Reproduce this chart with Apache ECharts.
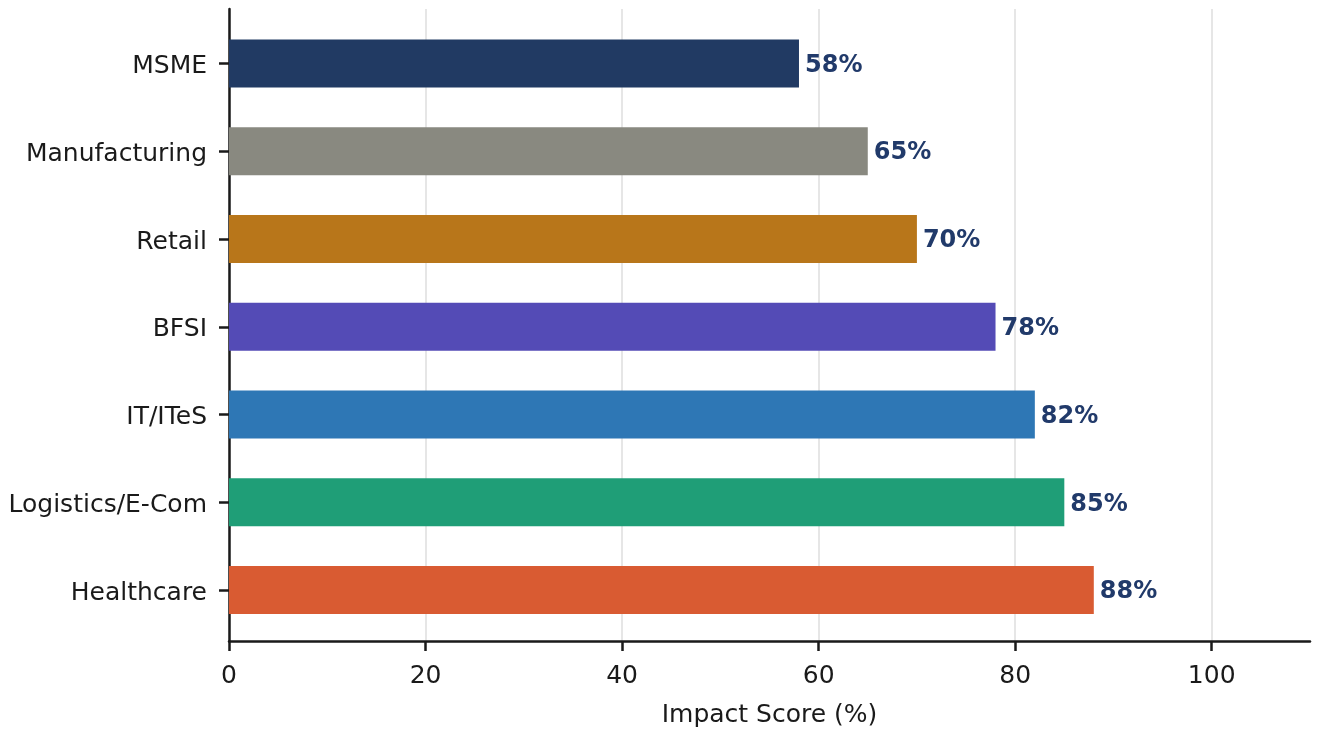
<!DOCTYPE html>
<html lang="en">
<head>
    <meta charset="UTF-8">
    <title>Impact Score by Sector</title>
    <script src="https://cdn.jsdelivr.net/npm/echarts@6/dist/echarts.min.js"></script>
    <style>
        html, body { margin: 0; padding: 0; background: #fff; }
        #myChart { width: 1318px; height: 733px; }
    </style>
</head>
<body>
<div id="myChart"></div>
<script type="text/javascript">
    // data, listed top to bottom as in the picture
    var sectors = ['MSME', 'Manufacturing', 'Retail', 'BFSI', 'IT/ITeS', 'Logistics/E-Com', 'Healthcare'];
    var scores = [58, 65, 70, 78, 82, 85, 88];
    var barColors = ['#213a63', '#898980', '#b8761a', '#544bb6', '#2e77b5', '#1f9e77', '#d95b32'];
    var xTicks = [0, 20, 40, 60, 80, 100];

    var font = 'DejaVu Sans';
    var myChart = echarts.init(document.getElementById('myChart'));

    myChart.setOption({
        backgroundColor: '#fff',
        animation: false,
        grid: [
            // bars
            {left: 229, right: 8, top: 19.6, bottom: 99},
            // frame: axis lines, x ticks, gridlines
            {left: 229, right: 8, top: 9, bottom: 90.5}
        ],
        xAxis: [
            {
                gridIndex: 0, type: 'value', min: 0, max: 110, show: false
            },
            {
                gridIndex: 1, type: 'value', min: 0, max: 110, interval: 20,
                name: 'Impact Score (%)',
                nameLocation: 'middle',
                nameGap: 62,
                nameTextStyle: {fontFamily: font, fontSize: 25, color: '#1a1a1a'},
                axisLine: {show: true, lineStyle: {color: '#1a1a1a', width: 2.5}},
                axisTick: {show: true, length: 10, lineStyle: {color: '#1a1a1a', width: 2.5},
                    customValues: xTicks},
                axisLabel: {fontFamily: font, fontSize: 25, color: '#1a1a1a', margin: 23,
                    customValues: xTicks},
                splitLine: {show: true, lineStyle: {color: '#e6e6e6', width: 2}}
            }
        ],
        yAxis: [
            {
                gridIndex: 0, type: 'category', data: sectors, inverse: true,
                axisLine: {show: false},
                axisTick: {show: true, alignWithLabel: true, length: 10,
                    lineStyle: {color: '#1a1a1a', width: 2.5}},
                axisLabel: {
                    margin: 22,
                    formatter: function (v) { return '{t|' + v + '}'; },
                    rich: {
                        t: {fontFamily: font, fontSize: 25, color: '#1a1a1a', padding: [6, 0, 0, 0]}
                    }
                },
                splitLine: {show: false}
            },
            {
                gridIndex: 1, type: 'value', min: 0, max: 1,
                axisLine: {show: true, lineStyle: {color: '#1a1a1a', width: 2.5}},
                axisTick: {show: false},
                axisLabel: {show: false},
                splitLine: {show: false}
            }
        ],
        series: [
            {
                type: 'bar',
                xAxisIndex: 0,
                yAxisIndex: 0,
                data: scores,
                barWidth: 48,
                itemStyle: {
                    color: function (p) { return barColors[p.dataIndex]; }
                },
                label: {
                    show: true,
                    position: 'right',
                    distance: 6,
                    offset: [0, 2],
                    formatter: '{c}%',
                    fontFamily: font,
                    fontSize: 24,
                    fontWeight: 'bold',
                    color: '#213a6a'
                }
            }
        ]
    });
</script>
</body>
</html>
